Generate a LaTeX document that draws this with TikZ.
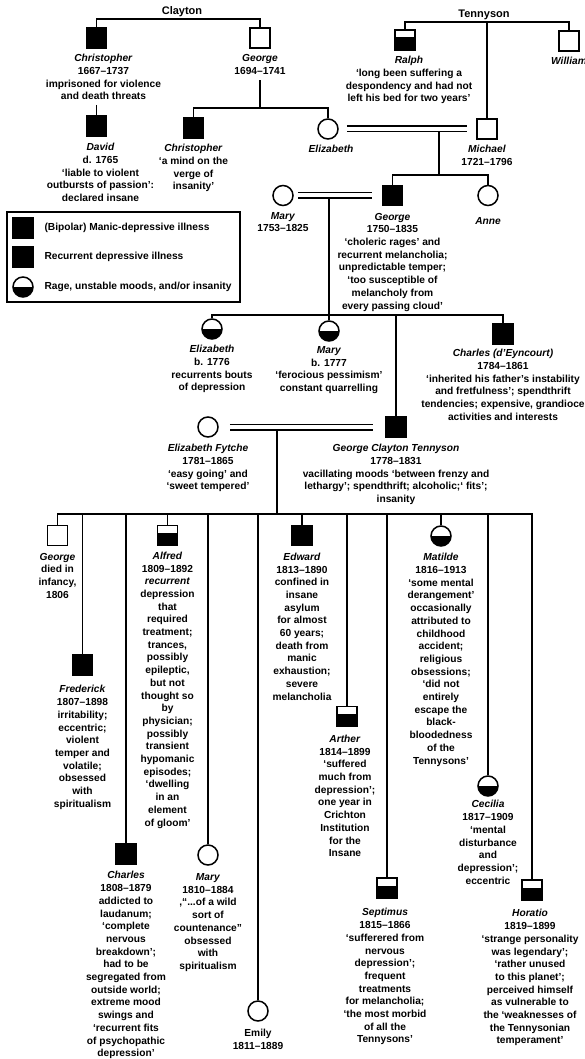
\documentclass[tikz,border=0pt]{standalone}
\usepackage{fontspec}
\setmainfont{Liberation Sans}
\usetikzlibrary{positioning}
\tikzset{
  male/.style={draw,line width=1.5pt,minimum size=20pt,inner sep=0pt},
  female/.style={male,circle},
  ill/.style={fill=black},
  lowsq/.style={path picture={\fill[black] (path picture bounding box.south west) rectangle ([yshift=-7.5pt]path picture bounding box.north east);}},
  lowci/.style={path picture={\fill[black] (path picture bounding box.south west) rectangle (path picture bounding box.east);}},
  info/.style={align=center,inner sep=0pt,font=\bfseries\fontsize{10.2}{12.7}\selectfont},
  fam/.style={font=\bfseries\fontsize{11}{13}\selectfont,inner sep=1.5pt},
  marriage/.style={line width=1.5pt,double,double distance=4pt}
}

\begin{document}
\begin{tikzpicture}[x=1pt,y=-1pt,line width=1.5pt]
\useasboundingbox (0,0) rectangle (585,1059);

% Clayton side
\node[fam,above] (clayton) at (182,19) {Clayton};
\node[male,ill] (chris) at (96.5,38) {};
\node[male] (george) at (260,38) {};
\node[info,below=5pt of chris,xshift=7pt] (chrisT) {\textit{Christopher}\\1667--1737\\imprisoned for violence\\and death threats};
\node[info,below=5pt of george] (georgeT) {\textit{George}\\1694--1741};
\draw (chris.north) |- (clayton.south) -| (george.north);

\node[male,ill] (david) at (96.5,126) {};
\node[info,below=6pt of david,xshift=4pt] (davidT) {\textit{David}\\d. 1765\\`liable to violent\\outbursts of passion':\\declared insane};
\draw[shorten <=4pt] (chrisT.south -| david) -- (david.north);

\coordinate (sibA) at (260,108);
\node[male,ill] (chris2) at (193.5,128) {};
\node[female] (eliz) at (328,129) {};
\node[info,below=5pt of chris2] (chris2T) {\textit{Christopher}\\`a mind on the\\verge of\\insanity'};
\node[info,below=5pt of eliz,xshift=3pt] (elizT) {\textit{Elizabeth}};
\draw[shorten <=5pt] (georgeT.south -| sibA) -- (sibA);
\draw (chris2.north) |- (sibA) -| (eliz.north);

% Tennyson side
\node[fam,above] (tennyson) at (484,22) {Tennyson};
\node[male,lowsq] (ralph) at (405,40) {};
\node[male] (william) at (569,41) {};
\node[male] (michael) at (487,129) {};
\node[info,below=5pt of ralph,xshift=4pt] (ralphT) {\textit{Ralph}\\`long been suffering a\\despondency and had not\\left his bed for two years'};
\node[info,below=5pt of william] (williamT) {\textit{William}};
\node[info,below=5pt of michael] (michaelT) {\textit{Michael}\\1721--1796};
\draw (ralph.north) |- (tennyson.south) -| (william.north);
\draw (tennyson.south -| michael) -- (michael.north);

\draw[marriage,shorten <=8pt,shorten >=9pt] (eliz) -- (michael);
\coordinate (mA) at (439,131.5);
\coordinate (sibB) at (439,175);
\node[female] (mary) at (283,195.5) {};
\node[male,ill] (georgeM) at (392.5,195.5) {};
\node[female] (anne) at (488,195.5) {};
\node[info,below=5pt of mary] (maryT) {\textit{Mary}\\1753--1825};
\node[info,below=6pt of georgeM] (georgeMT) {\textit{George}\\1750--1835\\`choleric rages' and\\recurrent melancholia;\\unpredictable temper;\\`too susceptible of\\melancholy from\\every passing cloud'};
\node[info,below=10pt of anne] (anneT) {\textit{Anne}};
\draw (mA) -- (sibB);
\draw (georgeM.north) |- (sibB) -| (anne.north);

% legend
\draw[line width=1.8pt] (7,212) rectangle (240,302);
\node[male,ill] (keyA) at (23,228) {};
\node[male,ill] (keyB) at (23,257) {};
\node[female,lowci] (keyC) at (23,287) {};
\node[info,right=10pt of keyA] (keyAT) {(Bipolar) Manic-depressive illness};
\node[info,right=10pt of keyB] (keyBT) {Recurrent depressive illness};
\node[info,right=10pt of keyC] (keyCT) {Rage, unstable moods, and/or insanity};

% children of George and Mary
\draw[marriage,shorten <=4pt,shorten >=10pt] (mary) -- (georgeM);
\coordinate (mB) at (329,198.5);
\coordinate (sibC) at (329,315);
\node[female,lowci] (elizB) at (212,329) {};
\node[female,lowci] (maryB) at (329,331) {};
\node[male,ill] (charlesD) at (503,334) {};
\node[male,ill] (gct) at (396,427) {};
\node[info,below=5pt of elizB] (elizBT) {\textit{Elizabeth}\\b. 1776\\recurrents bouts\\of depression};
\node[info,below=4pt of maryB] (maryBT) {\textit{Mary}\\b. 1777\\`ferocious pessimism'\\constant quarrelling};
\node[info,below=4pt of charlesD] (charlesDT) {\textit{Charles (d'Eyncourt)}\\1784--1861\\`inherited his father's instability\\and fretfulness'; spendthrift\\tendencies; expensive, grandioce\\activities and interests};
\draw (mB) -- (sibC);
\draw (elizB.north) |- (sibC) -| (charlesD.north);
\draw (maryB.north) -- (maryB |- sibC);
\draw (gct.north) -- (gct |- sibC);

% George Clayton Tennyson and Elizabeth Fytche
\node[female] (fytche) at (208,427) {};
\node[info,below=6pt of fytche] (fytcheT) {\textit{Elizabeth Fytche}\\1781--1865\\`easy going' and\\`sweet tempered'};
\node[info,below=6pt of gct] (gctT) {\textit{George Clayton Tennyson}\\1778--1831\\vacillating moods `between frenzy and\\lethargy'; spendthrift; alcoholic;` fits';\\insanity};
\draw[marriage,shorten <=11pt,shorten >=12pt] (fytche) -- (gct);
\coordinate (mC) at (277,430);
\coordinate (sibD) at (277,514);
\draw (mC) -- (sibD);

% their children
\node[male] (georgeI) at (57.5,535.5) {};
\node[male,ill] (frederick) at (82.5,665) {};
\node[male,ill] (charles) at (126,854) {};
\node[male,lowsq] (alfred) at (167.5,535.5) {};
\node[female] (maryC) at (208,855) {};
\node[female] (emily) at (258,1011) {};
\node[male,ill] (edward) at (302,535.5) {};
\node[male,lowsq] (arthur) at (347,716.5) {};
\node[male,lowsq] (septimus) at (387,888) {};
\node[female,lowci] (matilda) at (441,536) {};
\node[female,lowci] (cecilia) at (488,786) {};
\node[male,lowsq] (horatio) at (532,890) {};

\node[info,below=6pt of georgeI] (georgeIT) {\textit{George}\\died in\\infancy,\\1806};
\node[info,below=9pt of frederick] (frederickT) {\textit{Frederick}\\1807--1898\\irritability;\\eccentric;\\violent\\temper and\\volatile;\\obsessed\\with\\spiritualism};
\node[info,below=6pt of charles] (charlesT) {\textit{Charles}\\1808--1879\\addicted to\\laudanum;\\`complete\\nervous\\breakdown';\\had to be\\segregated from\\outside world;\\extreme mood\\swings and\\`recurrent fits\\of psychopathic\\depression'};
\node[info,below=5pt of alfred] (alfredT) {\textit{Alfred}\\1809--1892\\\textit{recurrent}\\depression\\that\\required\\treatment;\\trances,\\possibly\\epileptic,\\but not\\thought so\\by\\physician;\\possibly\\transient\\hypomanic\\episodes;\\`dwelling\\in an\\element\\of gloom'};
\node[info,below=7pt of maryC] (maryCT) {\textit{Mary}\\1810--1884\\,``...of a wild\\sort of\\countenance''\\obsessed\\with\\spiritualism};
\node[info,below=7pt of emily] (emilyT) {Emily\\1811--1889};
\node[info,below=6pt of edward] (edwardT) {\textit{Edward}\\1813--1890\\confined in\\insane\\asylum\\for almost\\60 years;\\death from\\manic\\exhaustion;\\severe\\melancholia};
\node[info,below=7pt of arthur,xshift=-2pt] (arthurT) {\textit{Arther}\\1814--1899\\`suffered\\much from\\depression';\\one year in\\Crichton\\Institution\\for the\\Insane};
\node[info,below=9pt of septimus,xshift=-2pt] (septimusT) {\textit{Septimus}\\1815--1866\\`sufferered from\\nervous\\depression';\\frequent\\treatments\\for melancholia;\\`the most morbid\\of all the\\Tennysons'};
\node[info,below=6pt of matilda] (matildaT) {\textit{Matilde}\\1816--1913\\`some mental\\derangement'\\occasionally\\attributed to\\childhood\\accident;\\religious\\obsessions;\\`did not\\entirely\\escape the\\black-\\bloodedness\\of the\\Tennysons'};
\node[info,below=3pt of cecilia] (ceciliaT) {\textit{Cecilia}\\1817--1909\\`mental\\disturbance\\and\\depression';\\eccentric};
\node[info,below=8pt of horatio,xshift=-2pt] (horatioT) {\textit{Horatio}\\1819--1899\\`strange personality\\was legendary';\\`rather unused\\to this planet';\\perceived himself\\as vulnerable to\\the `weaknesses of\\the Tennysonian\\temperament'};

\draw (georgeI.north) |- (sibD) -| (horatio.north);
\foreach \kid in {frederick,charles,alfred,maryC,emily,edward,arthur,septimus,matilda,cecilia}
  \draw (\kid.north) -- (\kid |- sibD);
\end{tikzpicture}
\end{document}
